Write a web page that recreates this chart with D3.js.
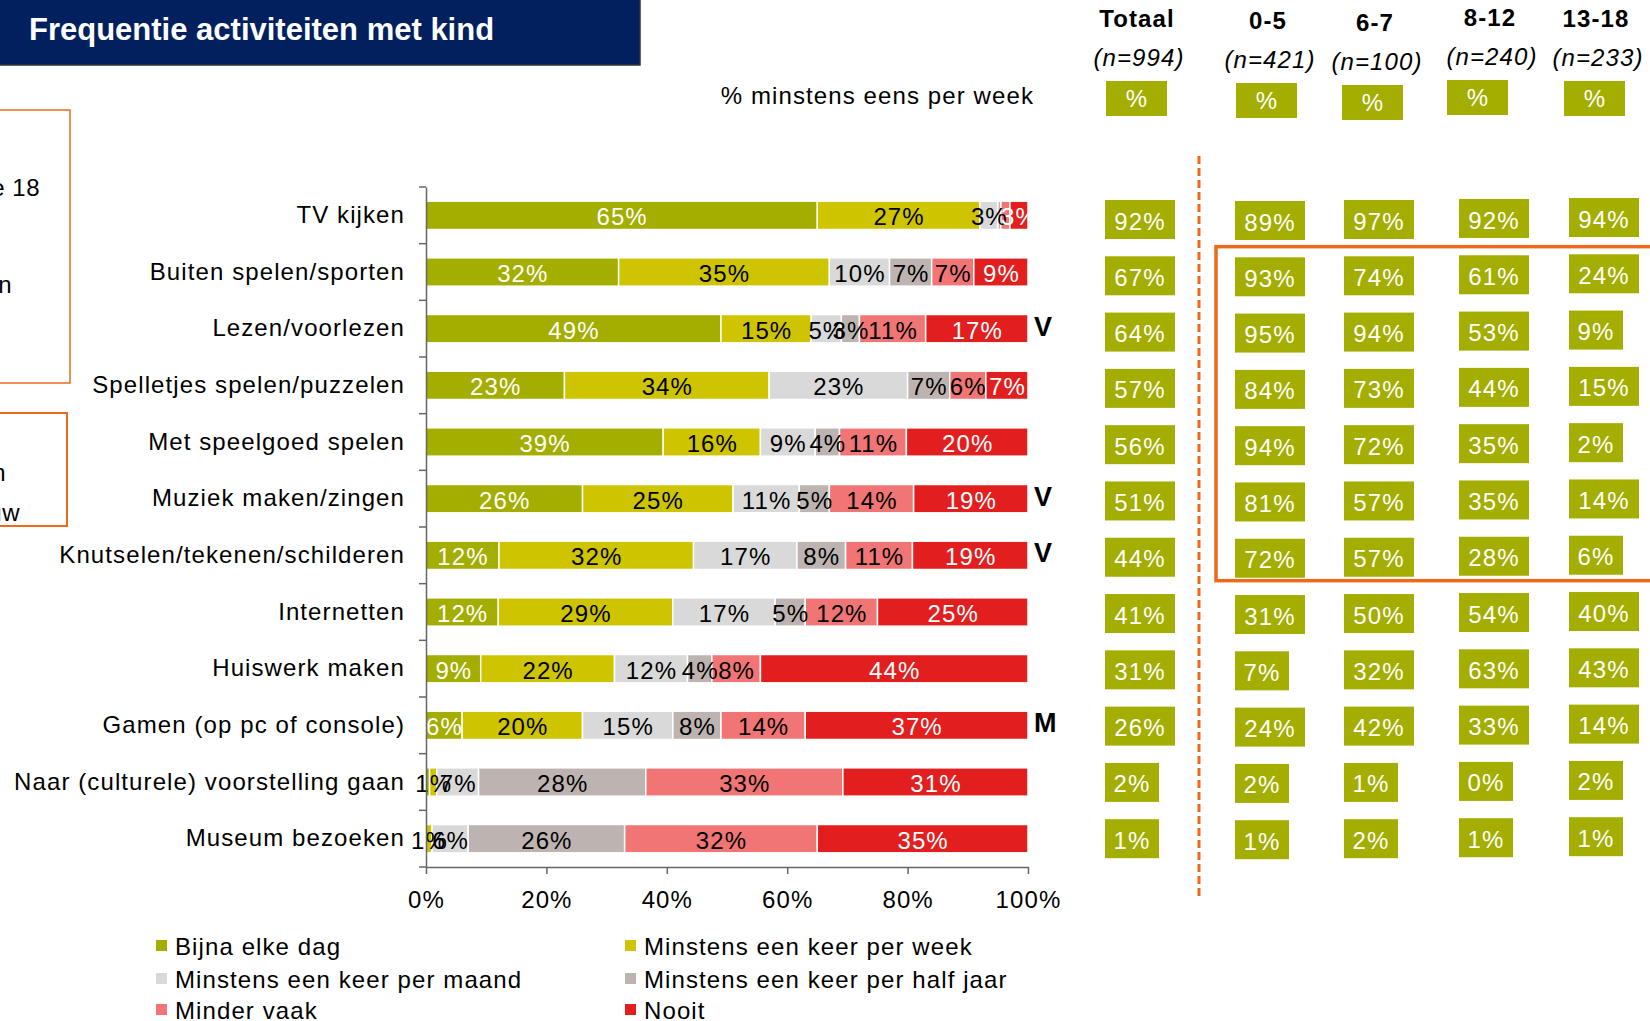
<!DOCTYPE html>
<html>
<head>
<meta charset="utf-8">
<script src="https://cdn.jsdelivr.net/npm/d3@7"></script>
<style>
  body { margin: 0; background: #fff; }
  svg text { font-family: "Liberation Sans", Arial, sans-serif; }
</style>
</head>
<body>
<div id="chart"></div>
<script>
// categories
const activities = [
  "TV kijken", "Buiten spelen/sporten", "Lezen/voorlezen", "Spelletjes spelen/puzzelen",
  "Met speelgoed spelen", "Muziek maken/zingen", "Knutselen/tekenen/schilderen",
  "Internetten", "Huiswerk maken", "Gamen (op pc of console)",
  "Naar (culturele) voorstelling gaan", "Museum bezoeken"
];
const frequencies = [
  "Bijna elke dag", "Minstens een keer per week", "Minstens een keer per maand",
  "Minstens een keer per half jaar", "Minder vaak", "Nooit"
];

// stacked bar values (%)
const bijnaElkeDag = [65, 32, 49, 23, 39, 26, 12, 12, 9, 6, 0.6, 0];
const perWeek      = [27, 35, 15, 34, 16, 25, 32, 29, 22, 20, 1.2, 1];
const perMaand     = [3, 10, 5, 23, 9, 11, 17, 17, 12, 15, 7, 6];
const perHalfJaar  = [0.5, 7, 3, 7, 4, 5, 8, 5, 4, 8, 28, 26];
const minderVaak   = [1.5, 7, 11, 6, 11, 14, 11, 12, 8, 14, 33, 32];
const nooit        = [3, 9, 17, 7, 20, 19, 19, 25, 44, 37, 31, 35];
const hiddenLabels = [["TV kijken", "Minstens een keer per half jaar"], ["TV kijken", "Minder vaak"]];

// significance markers
const markers = [
  ["Lezen/voorlezen", "V"], ["Muziek maken/zingen", "V"],
  ["Knutselen/tekenen/schilderen", "V"], ["Gamen (op pc of console)", "M"]
];

// % minstens eens per week per age group
const ageGroups = ["Totaal", "0-5", "6-7", "8-12", "13-18"];
const sampleSizes = ["(n=994)", "(n=421)", "(n=100)", "(n=240)", "(n=233)"];
const pctTotaal = [92, 67, 64, 57, 56, 51, 44, 41, 31, 26, 2, 1];
const pct0to5   = [89, 93, 95, 84, 94, 81, 72, 31, 7, 24, 2, 1];
const pct6to7   = [97, 74, 94, 73, 72, 57, 57, 50, 32, 42, 1, 2];
const pct8to12  = [92, 61, 53, 44, 35, 35, 28, 54, 63, 33, 0, 1];
const pct13to18 = [94, 24, 9, 15, 2, 14, 6, 40, 43, 14, 2, 1];
const xTicks = [0, 0.2, 0.4, 0.6, 0.8, 1];

const width = 1650, height = 1021;
const olive = "#a3ae00", orange = "#ee6a1b";
const colors = ["#a3ae00", "#cfc400", "#d9d9d9", "#bdb4b1", "#f17575", "#e31e1e"];
const labelColors = ["#fff", "#000", "#000", "#000", "#000", "#fff"];

const svg = d3.select("#chart")
  .append("svg")
  .attr("width", width)
  .attr("height", height)
  .style("letter-spacing", "1.1px");

// title
svg.append("rect")
  .attr("x", -2).attr("y", -2)
  .attr("width", 642).attr("height", 67)
  .attr("fill", "#02205e")
  .attr("stroke", "#333").attr("stroke-width", 1.5);
svg.append("text")
  .attr("x", 29).attr("y", 40)
  .attr("fill", "#fff")
  .attr("font-size", 31).attr("font-weight", "bold")
  .style("letter-spacing", "0px")
  .text("Frequentie activiteiten met kind");

// clipped note boxes on the left
svg.append("rect").attr("x", -10).attr("y", 110).attr("width", 80).attr("height", 273)
  .attr("fill", "none").attr("stroke", orange).attr("stroke-width", 1.5);
svg.append("rect").attr("x", -10).attr("y", 413).attr("width", 77).attr("height", 113)
  .attr("fill", "none").attr("stroke", orange).attr("stroke-width", 2);
const notes = [
  ["Ouders met kinderen onder de 18", 40, 196],
  ["samen actief met hun kind zijn", 12, 293],
  ["Significante verschillen", 6, 481],
  ["tussen man en vrouw", 20, 521]
];
svg.selectAll(".note").data(notes).join("text")
  .attr("class", "note")
  .attr("x", d => d[1]).attr("y", d => d[2])
  .attr("text-anchor", "end").attr("font-size", 24)
  .style("letter-spacing", "0.5px")
  .text(d => d[0]);

// scales
const xScale = d3.scaleLinear().domain([0, 1]).range([426, 1028]);
const yScale = d3.scaleBand().domain(activities).range([187, 867])
  .paddingInner(0.5).paddingOuter(0.25);
const tableY = d3.scalePoint().domain(activities).range([219.5, 838.7]);

// stacked data
const valueSeries = [bijnaElkeDag, perWeek, perMaand, perHalfJaar, minderVaak, nooit];
const rows = activities.map((a, i) => {
  const r = { activity: a };
  frequencies.forEach((f, j) => { r[f] = valueSeries[j][i]; });
  return r;
});
const stacked = d3.stack().keys(frequencies).offset(d3.stackOffsetExpand)(rows);

const layers = svg.append("g").selectAll("g")
  .data(stacked).join("g")
  .attr("fill", (d, i) => colors[i]);

layers.selectAll("rect")
  .data(d => d).join("rect")
  .attr("x", d => xScale(d[0]))
  .attr("y", d => yScale(d.data.activity))
  .attr("width", d => Math.max(0, xScale(d[1]) - xScale(d[0])))
  .attr("height", yScale.bandwidth())
  .attr("stroke", "#fff").attr("stroke-width", 1.5);

// segment labels
stacked.forEach((layer, i) => {
  const key = layer.key;
  const shown = layer.filter(d => d.data[key] >= 1 &&
    !hiddenLabels.some(h => h[0] === d.data.activity && h[1] === key));
  svg.append("g").selectAll("text")
    .data(shown).join("text")
    .attr("x", d => xScale((d[0] + d[1]) / 2) + 0.5)
    .attr("y", d => yScale(d.data.activity) + yScale.bandwidth() / 2 + 10)
    .attr("text-anchor", "middle")
    .attr("font-size", 24)
    .attr("fill", labelColors[i])
    .text(d => Math.round(d.data[key]) + "%");
});

// markers
svg.append("g").selectAll("text")
  .data(markers).join("text")
  .attr("x", 1034)
  .attr("y", d => yScale(d[0]) + yScale.bandwidth() / 2 + 7)
  .attr("font-size", 27).attr("font-weight", "bold")
  .text(d => d[1]);

// y axis
const yAxis = svg.append("g")
  .attr("transform", "translate(426,0)")
  .call(d3.axisLeft(yScale).tickSize(0).tickPadding(21));
yAxis.select(".domain").attr("stroke", "#666").attr("stroke-width", 1.5);
yAxis.selectAll("text").attr("font-size", 24).attr("fill", "#000");
yAxis.selectAll(".bound")
  .data(d3.range(activities.length + 1)).join("line")
  .attr("class", "bound")
  .attr("x1", -7).attr("x2", 0)
  .attr("y1", i => 187 + i * yScale.step())
  .attr("y2", i => 187 + i * yScale.step())
  .attr("stroke", "#666").attr("stroke-width", 1.5);

// x axis
const xAxis = svg.append("g")
  .attr("transform", "translate(0,867)")
  .call(d3.axisBottom(xScale).tickValues(xTicks).tickFormat(d3.format(".0%"))
    .tickSize(7).tickSizeOuter(0).tickPadding(17));
xAxis.select(".domain").attr("stroke", "#666").attr("stroke-width", 1.5);
xAxis.selectAll("line").attr("stroke", "#666").attr("stroke-width", 1.5);
xAxis.selectAll("text").attr("font-size", 24).attr("fill", "#000");

// legend
const legendPos = [[156, 946], [625, 946], [156, 979], [625, 979], [156, 1010], [625, 1010]];
const legend = svg.append("g").selectAll("g")
  .data(frequencies).join("g")
  .attr("transform", (d, i) => `translate(${legendPos[i][0]},${legendPos[i][1]})`);
legend.append("rect")
  .attr("x", 0).attr("y", -6).attr("width", 11).attr("height", 11)
  .attr("fill", (d, i) => colors[i]);
legend.append("text")
  .attr("x", 19).attr("y", 8.5)
  .attr("font-size", 24)
  .text(d => d);

// table on the right
const colCenter = d3.scaleOrdinal().domain(ageGroups).range([1137, 1268, 1375, 1490, 1596]);
const colBoxX = d3.scaleOrdinal().domain(ageGroups).range([1105, 1235, 1344, 1459, 1569]);
const headBoxX = d3.scaleOrdinal().domain(ageGroups).range([1106, 1236, 1342, 1447, 1564]);
const headY = d3.scaleOrdinal().domain(ageGroups).range([18, 20, 22, 17, 18]);
const colShift = d3.scaleOrdinal().domain(ageGroups).range([0, 1, 0, -1, -2]);

svg.append("text")
  .attr("x", 1034).attr("y", 104)
  .attr("text-anchor", "end").attr("font-size", 24)
  .text("% minstens eens per week");

const heads = svg.append("g").selectAll("g")
  .data(ageGroups).join("g");
heads.append("text")
  .attr("x", d => colCenter(d)).attr("y", d => headY(d) + 9)
  .attr("text-anchor", "middle").attr("font-size", 24).attr("font-weight", "bold")
  .text(d => d);
heads.append("text")
  .attr("x", d => colCenter(d) + 2).attr("y", (d, i) => headY(d) + 48)
  .attr("text-anchor", "middle").attr("font-size", 24).attr("font-style", "italic")
  .text((d, i) => sampleSizes[i]);
heads.append("rect")
  .attr("x", d => headBoxX(d)).attr("y", d => headY(d) + 63)
  .attr("width", 61).attr("height", 35)
  .attr("fill", olive);
heads.append("text")
  .attr("x", d => headBoxX(d) + 31).attr("y", d => headY(d) + 89)
  .attr("text-anchor", "middle").attr("font-size", 24).attr("fill", "#fff")
  .text("%");

const pctCols = [pctTotaal, pct0to5, pct6to7, pct8to12, pct13to18];
ageGroups.forEach((g, j) => {
  const cells = svg.append("g").selectAll("g")
    .data(activities.map((a, i) => ({ activity: a, value: pctCols[j][i] })))
    .join("g")
    .attr("transform", d => `translate(${colBoxX(g)},${tableY(d.activity) + colShift(g)})`);
  cells.append("rect")
    .attr("x", 0).attr("y", -19.5)
    .attr("width", d => d.value < 10 ? 54 : 70)
    .attr("height", 39)
    .attr("fill", olive);
  cells.append("text")
    .attr("x", d => (d.value < 10 ? 54 : 70) / 2)
    .attr("y", 10)
    .attr("text-anchor", "middle").attr("font-size", 24).attr("fill", "#fff")
    .text(d => d.value + "%");
});

// separators
svg.append("line")
  .attr("x1", 1199).attr("x2", 1199).attr("y1", 156).attr("y2", 897)
  .attr("stroke", orange).attr("stroke-width", 3).attr("stroke-dasharray", "8,4");
const step = yScale.step();
svg.append("rect")
  .attr("x", 1216).attr("y", 187 + step + 3)
  .attr("width", 500).attr("height", 6 * step - 6)
  .attr("fill", "none").attr("stroke", orange).attr("stroke-width", 3.5);
</script>
</body>
</html>
